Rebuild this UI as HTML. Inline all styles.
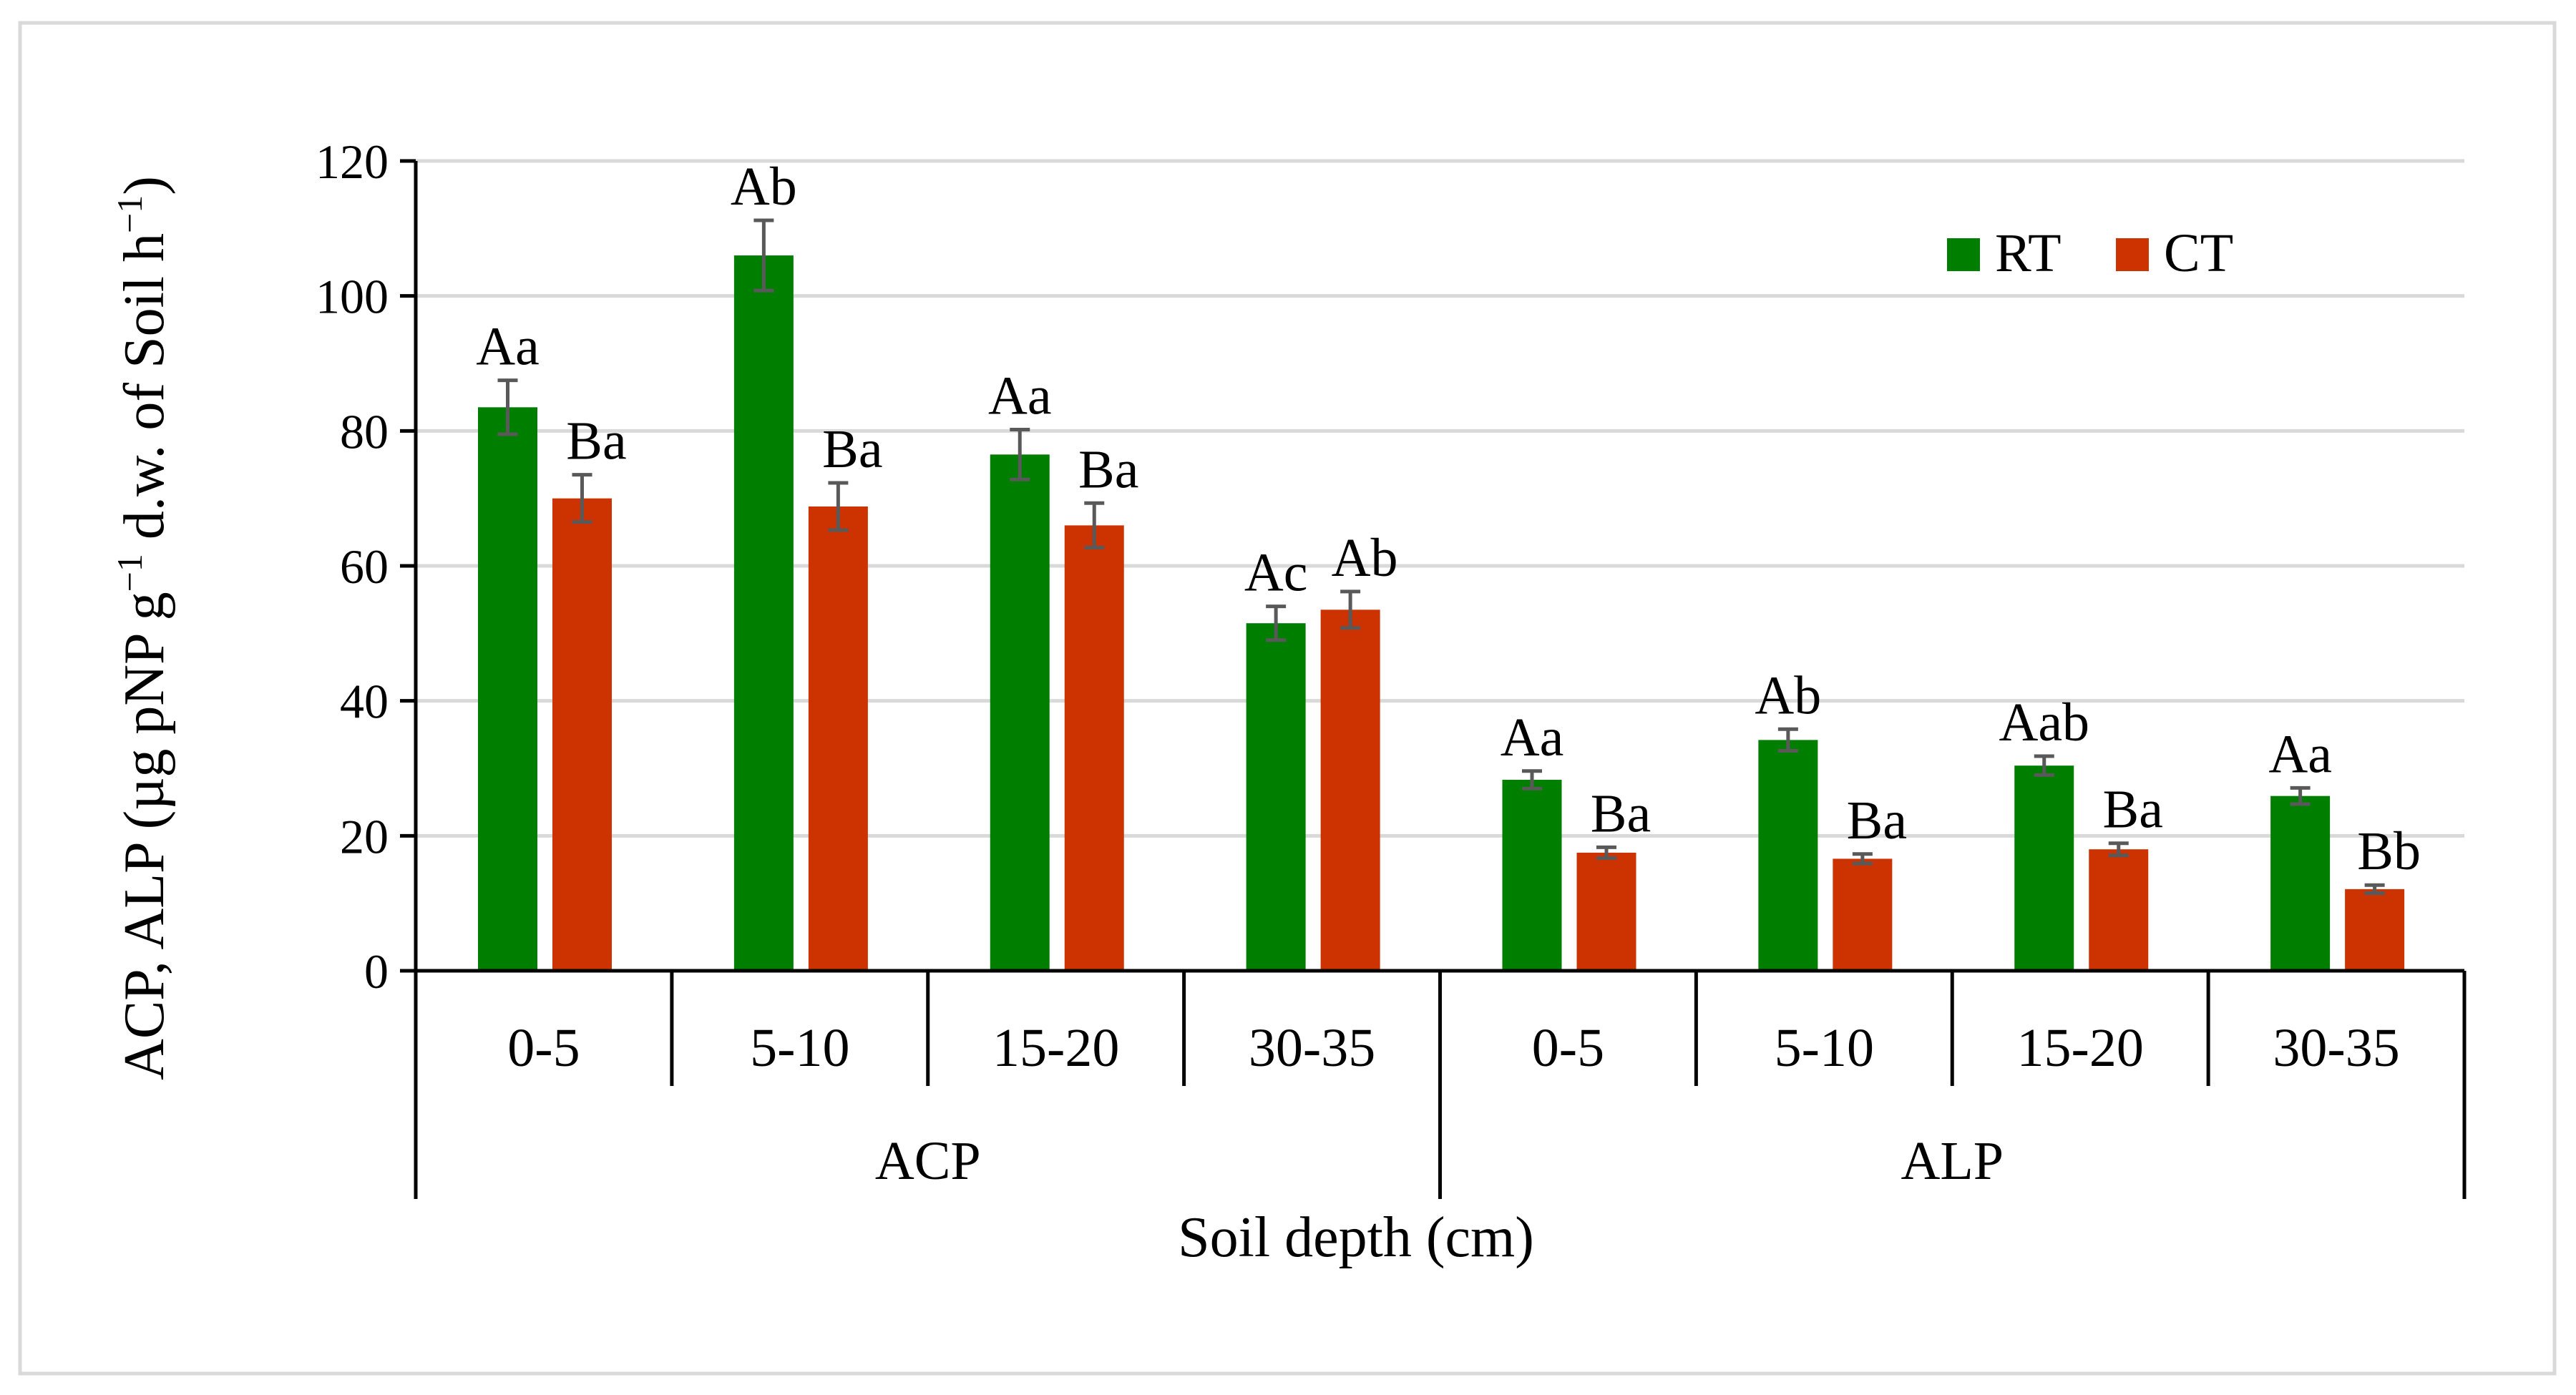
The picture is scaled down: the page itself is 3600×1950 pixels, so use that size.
<!DOCTYPE html>
<html><head><meta charset="utf-8"><style>
body{margin:0;background:#fff}
svg text{font-family:"Liberation Serif",serif;fill:#000}
</style></head><body>
<svg width="3600" height="1945" viewBox="0 0 3600 1945" xmlns="http://www.w3.org/2000/svg">
<rect x="28" y="32" width="3542" height="1888" fill="none" stroke="#d9d9d9" stroke-width="5"/>
<g id="grid"></g>
<g id="bars"></g>
<g id="axes"></g>
<text x="0" y="0" font-size="80" text-anchor="middle" transform="translate(228,878) rotate(-90)">ACP, ALP (µg pNP g<tspan font-size="50" dy="-30">−1</tspan><tspan dy="30"> d.w. of Soil h</tspan><tspan font-size="50" dy="-30">−1</tspan><tspan dy="30">)</tspan></text>
<text x="1895" y="1756" font-size="80" text-anchor="middle">Soil depth (cm)</text>
<g>
<rect x="2721" y="333" width="46" height="46" fill="#007e00"/>
<text x="2788" y="379" font-size="76">RT</text>
<rect x="2957" y="333" width="46" height="46" fill="#cc3300"/>
<text x="3024" y="379" font-size="76">CT</text>
</g>
</svg>
<script>
const categories=["0-5","5-10","15-20","30-35","0-5","5-10","15-20","30-35"];
const groups=["ACP","ALP"];
const rtValues=[83.5,106,76.5,51.5,28.3,34.2,30.4,25.9];
const ctValues=[70,68.8,66,53.5,17.5,16.6,18,12.1];
const rtErr=[4,5.2,3.7,2.5,1.3,1.6,1.4,1.2];
const ctErr=[3.5,3.5,3.3,2.7,0.8,0.7,0.9,0.6];
const rtLetters=["Aa","Ab","Aa","Ac","Aa","Ab","Aab","Aa"];
const ctLetters=["Ba","Ba","Ba","Ab","Ba","Ba","Ba","Bb"];
const yTicks=[0,20,40,60,80,100,120];

const NS="http://www.w3.org/2000/svg";
const X0=581,X1=3444,Y0=1357,Y1=225,YMAX=120;
const slot=(X1-X0)/categories.length;
const y=v=>Y0-(v/YMAX)*(Y0-Y1);
const xs=i=>X0+i*slot;
function mk(tag,attrs,parent,text){const e=document.createElementNS(NS,tag);for(const k in attrs)e.setAttribute(k,attrs[k]);if(text!==undefined)e.textContent=text;parent.appendChild(e);return e;}
const grid=document.getElementById('grid'),bars=document.getElementById('bars'),axes=document.getElementById('axes');
yTicks.forEach(t=>{
  if(t>0){const g=mk('line',{x1:X0,x2:X1,y1:y(t),y2:y(t),stroke:'#d9d9d9','stroke-width':5},grid);
  
  }
  const tk=mk('line',{x1:X0-22,x2:X0,y1:y(t),y2:y(t),stroke:'#000','stroke-width':5},axes);
  
  
  const tl=mk('text',{x:X0-38,y:y(t)+24,'font-size':68,'text-anchor':'end'},axes,String(t));
  
  
});
const bw=83;
function drawBar(cx,v,e,col,lab,name){
  const r=mk('rect',{x:cx-bw/2,y:y(v),width:bw,height:Y0-y(v),fill:col},bars);
  
  
  const eb=mk('path',{d:`M${cx},${y(v+e)}V${y(v-e)}M${cx-14},${y(v+e)}H${cx+14}M${cx-14},${y(v-e)}H${cx+14}`,stroke:'#595959','stroke-width':5,fill:'none'},bars);
  
  
  const t=mk('text',{x:cx+(name.startsWith('ct')?20:0),y:y(v+e)-22,'font-size':76,'text-anchor':'middle'},bars,lab);
  
  
}
categories.forEach((c,i)=>{
  const s=xs(i);
  drawBar(s+87+bw/2,rtValues[i],rtErr[i],'#007e00',rtLetters[i],'rt-bar-'+i);
  drawBar(s+191+bw/2,ctValues[i],ctErr[i],'#cc3300',ctLetters[i],'ct-bar-'+i);
  const l=mk('text',{x:s+slot/2,y:1490,'font-size':76,'text-anchor':'middle'},axes,c);
  
  
  if(i>0&&i!==4){const d=mk('line',{x1:s,x2:s,y1:Y0,y2:1518,stroke:'#000','stroke-width':5},axes);
  
  }
});
[0,4,8].forEach(i=>{const d=mk('line',{x1:xs(i),x2:xs(i),y1:Y0,y2:1676,stroke:'#000','stroke-width':5},axes);
  
  });
groups.forEach((g,j)=>{const t=mk('text',{x:xs(j*4)+2*slot,y:1648,'font-size':76,'text-anchor':'middle'},axes,g);
  
  });
const ya=mk('line',{x1:X0,x2:X0,y1:Y1,y2:Y0,stroke:'#000','stroke-width':5},axes);


const xa=mk('line',{x1:X0-22,x2:X1,y1:Y0,y2:Y0,stroke:'#000','stroke-width':5},axes);


</script>
</body></html>
